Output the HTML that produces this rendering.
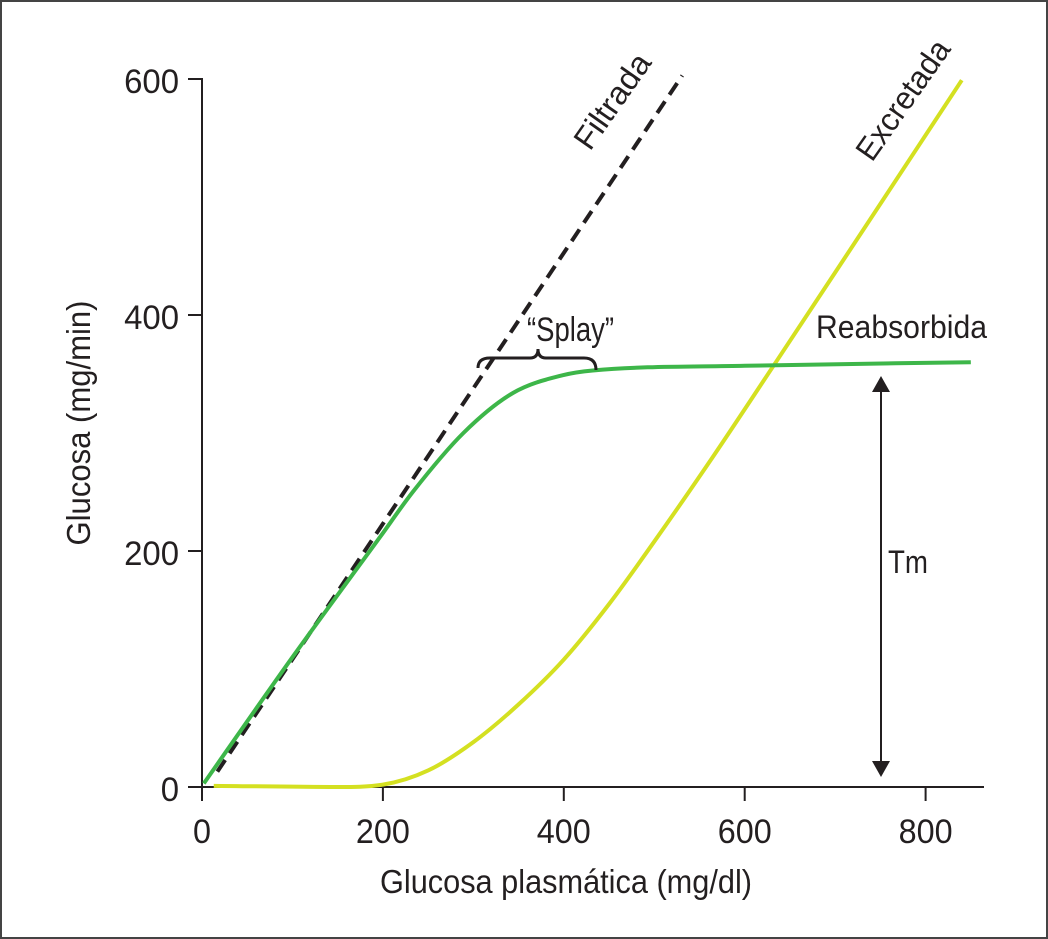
<!DOCTYPE html>
<html><head><meta charset="utf-8"><style>
html,body{margin:0;padding:0;background:#fff}
svg{display:block}
text{font-family:"Liberation Sans Narrow","Liberation Sans",sans-serif;fill:#231f20}
</style></head><body>
<svg id="chart" width="1048" height="939" viewBox="0 0 1048 939">
<rect x="1" y="1" width="1046" height="937" fill="#fff" stroke="#444" stroke-width="2"/>
<g id="axes"></g>
<g id="series"></g>
<g id="annot"></g>
</svg>
<script>
const xTicks=[0,200,400,600,800];
const yTicks=[0,200,400,600];
const filtX=[17,531];
const filtY=[13,603];
const reabX=[2,100,197,233,289,344,399,432,600,850];
const reabY=[3,110,212,250,300,334,349,353,357,360];
const excrX=[13,150,200,250,300,350,400,450,500,565,631,700,840];
const excrY=[1,0,2,14,38,70,108,155,208,280,356,436,599];
const NS='http://www.w3.org/2000/svg';
const sx=v=>202+v*0.9045;
const sy=v=>787-v*1.18;
function mk(tag,attrs,parent){const e=document.createElementNS(NS,tag);for(const k in attrs)e.setAttribute(k,attrs[k]);parent.appendChild(e);return e;}
const axes=document.getElementById('axes'),series=document.getElementById('series'),annot=document.getElementById('annot');
function txt(parent,s,x,y,size,len,rot,anchor){
 const e=mk('text',{x:0,y:0,'font-size':size,'text-anchor':anchor||'start',transform:`translate(${x} ${y}) rotate(${rot||0})`},parent);
 if(len){e.setAttribute('textLength',len);e.setAttribute('lengthAdjust','spacingAndGlyphs');}
 e.textContent=s;return e;}
let a=mk('path',{d:`M188 ${sy(600)} H202 V787 H984`,fill:'none',stroke:'#231f20','stroke-width':2},axes);


xTicks.forEach(v=>{
 const t=mk('line',{x1:sx(v),x2:sx(v),y1:787,y2:801,stroke:'#231f20','stroke-width':2},axes);
 
 
 const s=String(v);
 const l=txt(axes,s,sx(v),843,34,s.length*18,0,'middle');
 
 
});
yTicks.forEach(v=>{
 const t=mk('line',{x1:188,x2:202,y1:sy(v),y2:sy(v),stroke:'#231f20','stroke-width':2},axes);
 
 
 const s=String(v);
 const l=txt(axes,s,179,sy(v)+14,34,s.length*18.3,0,'end');
 
 
});
let xt=txt(axes,'Glucosa plasmática (mg/dl)',566,893,33,372,0,'middle');


let yt=txt(axes,'Glucosa (mg/min)',90,423,33,245,-90,'middle');


function monotone(xs,ys){
 const n=xs.length,d=[],m=new Array(n);
 for(let i=0;i<n-1;i++)d.push((ys[i+1]-ys[i])/(xs[i+1]-xs[i]));
 m[0]=d[0];m[n-1]=d[n-2];
 for(let i=1;i<n-1;i++)m[i]=(d[i-1]*d[i]<=0)?0:(d[i-1]+d[i])/2;
 for(let i=0;i<n-1;i++){if(d[i]===0){m[i]=m[i+1]=0;continue;}const al=m[i]/d[i],be=m[i+1]/d[i],s=al*al+be*be;if(s>9){const t=3/Math.sqrt(s);m[i]=t*al*d[i];m[i+1]=t*be*d[i];}}
 let path=`M${sx(xs[0])} ${sy(ys[0])}`;
 for(let i=0;i<n-1;i++){const h=xs[i+1]-xs[i];
  path+=` C${sx(xs[i]+h/3)} ${sy(ys[i]+m[i]*h/3)} ${sx(xs[i+1]-h/3)} ${sy(ys[i+1]-m[i+1]*h/3)} ${sx(xs[i+1])} ${sy(ys[i+1])}`;}
 return path;}
let f=mk('line',{x1:sx(filtX[0]),y1:sy(filtY[0]),x2:sx(filtX[1]),y2:sy(filtY[1]),stroke:'#231f20','stroke-width':4,'stroke-dasharray':'14 8'},series);


let e=mk('path',{d:monotone(excrX,excrY),fill:'none',stroke:'#d4e021','stroke-width':4},series);


let r=mk('path',{d:monotone(reabX,reabY),fill:'none',stroke:'#3db649','stroke-width':4},series);


let b=mk('path',{d:'M478 368 Q478 358 490 358 H530 Q538 358 538 349 Q538 358 546 358 H584 Q596 358 596 370',fill:'none',stroke:'#231f20','stroke-width':3},annot);


let l1=txt(annot,'“Splay”',527,341,34,87);


let l2=txt(annot,'Reabsorbida',816,338,32,171);


let l3=txt(annot,'Tm',888,573,32,40);


let l4=txt(annot,'Filtrada',590,152,32,109,-55);


let l5=txt(annot,'Excretada',872,163,32,139,-55);


let tm=mk('line',{x1:881,y1:392,x2:881,y2:762,stroke:'#231f20','stroke-width':2},annot);


let h1=mk('path',{d:'M872 392 L881 376 L890 392 Z M872 761 L881 777 L890 761 Z',fill:'#231f20'},annot);


</script>
</body></html>
